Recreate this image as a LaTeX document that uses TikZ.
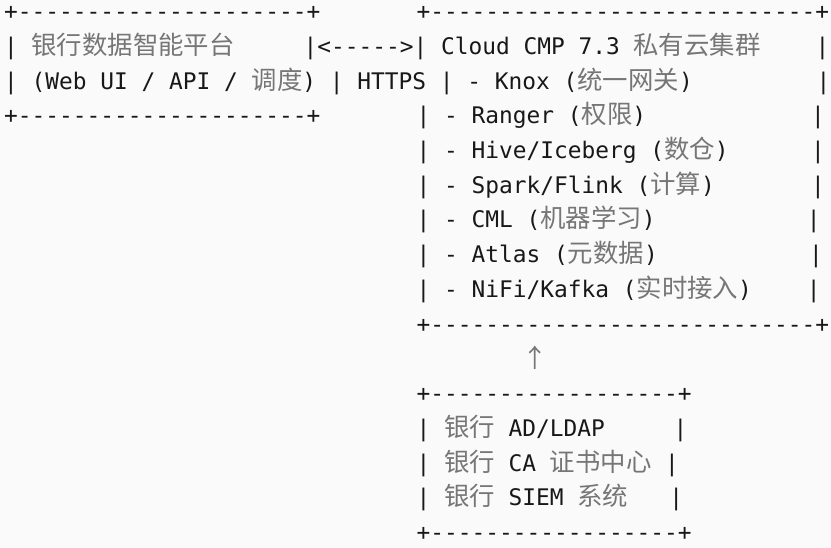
\documentclass[tikz,border=0pt]{standalone}
\usepackage{fontspec}
\newfontfamily\artfont{DejaVu Sans Mono}
\newfontfamily\cjkfont[Scale=1.112]{Noto Sans CJK SC}
\definecolor{bgcol}{RGB}{250,250,251}
\definecolor{inkcol}{RGB}{24,24,24}
\definecolor{cjkcol}{RGB}{118,118,118}
\newcommand{\zh}{\cjkfont\color{cjkcol}}

\begin{document}
\begin{tikzpicture}[x=1pt, y=-1pt,
        row/.style={anchor=base west, inner sep=0pt, outer sep=0pt, text=inkcol,
                    font={\artfont\fontsize{22.84}{27}\selectfont}},
        hint/.style={row, text=cjkcol}]

    \useasboundingbox (0,0) rectangle (831,548);
    \fill[bgcol] (0,0) rectangle (831,548);

    % ---------- platform box and cluster box ----------
    \node[row] (r1) at (4.1,19.6) {+---------------------+~~~~~~~+----------------------------+};
    \node[row] (r2) at (4.1,54.3) {|~{\zh 银行数据智能平台}~~~~~|<----->|~Cloud CMP 7.3 {\zh 私有云集群}~~~~|};
    \node[row] (r3) at (4.1,89.1) {| (Web UI / API / {\zh 调度}) | HTTPS | - Knox ({\zh 统一网关})~~~~~~~~~|};
    \node[row] (r4) at (4.1,123.8) {+---------------------+~~~~~~~| - Ranger ({\zh 权限})~~~~~~~~~~~~|};
    \node[row] (r5) at (416.6,158.5) {| - Hive/Iceberg ({\zh 数仓})~~~~~~|};
    \node[row] (r6) at (416.6,193.3) {| - Spark/Flink ({\zh 计算})~~~~~~~|};
    \node[row] (r7) at (416.6,228.0) {| - CML ({\zh 机器学习})~~~~~~~~~~~|};
    \node[row] (r8) at (416.6,262.7) {| - Atlas ({\zh 元数据})~~~~~~~~~~~|};
    \node[row] (r9) at (416.6,297.4) {| - NiFi/Kafka ({\zh 实时接入})~~~~|};
    \node[row] (r10) at (416.6,332.2) {+----------------------------+};

    % ---------- arrow up ----------
    \node[hint] (up) at (522.0,367.5) {{\zh ↑}};

    % ---------- bank services box ----------
    \node[row] (r12) at (416.6,401.6) {+------------------+};
    \node[row] (r13) at (416.6,436.4) {| {\zh 银行} AD/LDAP~~~~~|};
    \node[row] (r14) at (416.6,471.1) {| {\zh 银行} CA {\zh 证书中心} |};
    \node[row] (r15) at (416.6,505.8) {| {\zh 银行} SIEM {\zh 系统}~~~|};
    \node[row] (r16) at (416.6,540.6) {+------------------+};
\end{tikzpicture}
\end{document}
